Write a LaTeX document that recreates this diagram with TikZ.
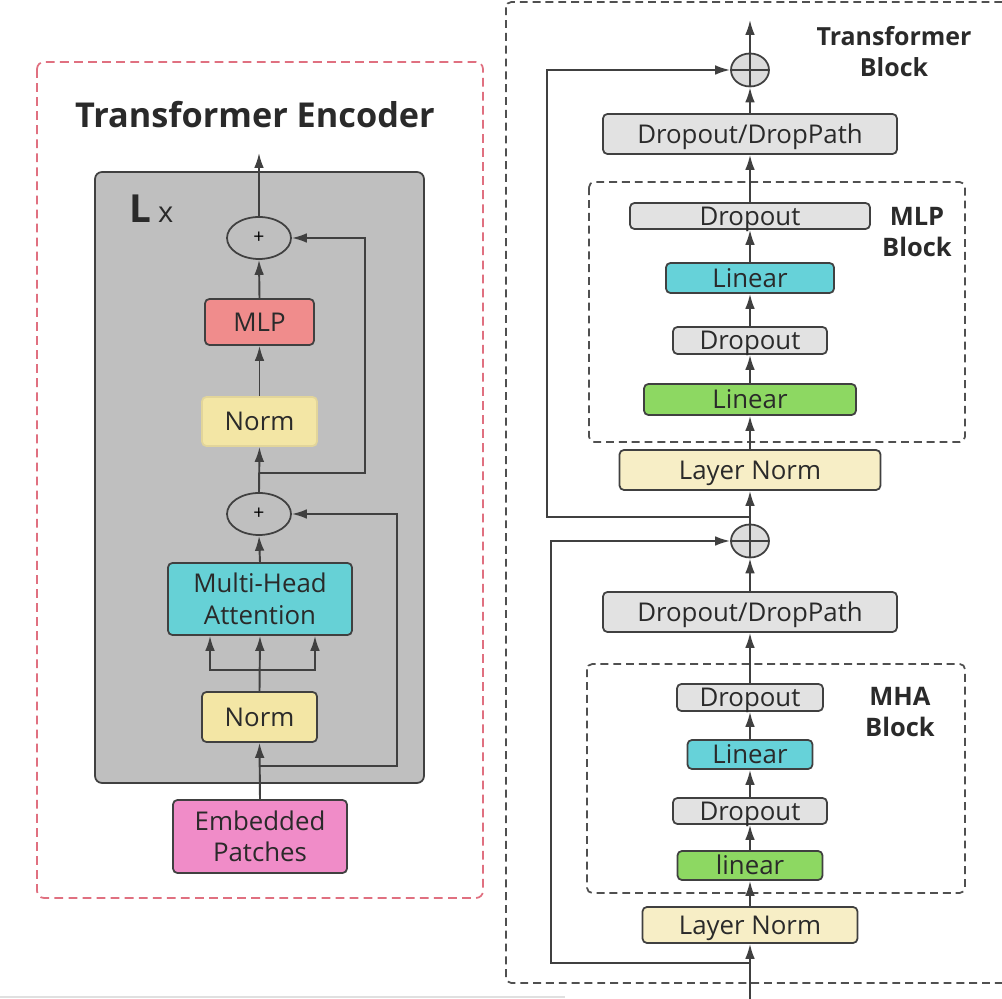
\documentclass[tikz,border=0pt]{standalone}
\usepackage{fontspec}
\setmainfont{Open Sans}
\usepackage{xcolor}
\usetikzlibrary{shapes.geometric,positioning,arrows.meta}

\definecolor{lineDark}{HTML}{404040}
\definecolor{textDark}{HTML}{2A2A2A}
\definecolor{frameRed}{HTML}{E07080}
\definecolor{frameGrey}{HTML}{505050}
\definecolor{encGrey}{HTML}{BFBFBF}
\definecolor{mlpRed}{HTML}{F08C8C}
\definecolor{normYel}{HTML}{F3E6A5}
\definecolor{normEdge}{HTML}{E2D59A}
\definecolor{mhaCyan}{HTML}{66D1D6}
\definecolor{embPink}{HTML}{F08CC8}
\definecolor{dropGrey}{HTML}{E2E2E2}
\definecolor{linCyan}{HTML}{66D2D9}
\definecolor{linGreen}{HTML}{8DD862}
\definecolor{lnYel}{HTML}{F7EEC6}
\definecolor{addGrey}{HTML}{DCDCDC}

\begin{document}
\begin{tikzpicture}[x=0.02cm, y=-0.02cm,
  arr/.style={line width=1.1pt, draw=lineDark, -{Latex[length=8.5pt,width=5.5pt]}},
  box/.style={draw=lineDark, line width=1pt, rounded corners=2.5pt, inner sep=0pt, text=textDark, font=\fontsize{14.7}{18}\selectfont},
  oneLine/.style={box, text height=11pt, text depth=0.6pt},
  twoLine/.style={box, align=center},
  addOval/.style={ellipse, draw=lineDark, line width=1pt, inner sep=0pt},
  blockFrame/.style={draw=frameGrey, line width=1pt, rounded corners=3pt, dash pattern=on 4.5pt off 2.8pt},
  lbl/.style={font=\fontsize{14.5}{17.6}\selectfont\bfseries, text=textDark, align=center}]
  \useasboundingbox (0,0) rectangle (1002,999);
  \clip (0,0) rectangle (1002,999);

  % Left: encoder frame and grey repeat box
  \draw[frameRed, line width=1pt, rounded corners=4pt, dash pattern=on 5pt off 3pt] (37,62) rectangle (483,898);
  \node[font=\fontsize{19.5}{22}\selectfont\bfseries, text=textDark, anchor=base] (encTitle) at (255,128) {Transformer Encoder};
  \draw[fill=encGrey, draw=lineDark, line width=1pt, rounded corners=4pt] (95,172) rectangle (424,783);
  \node[anchor=base west, text=textDark, inner sep=0pt] (repL) at (129,223) {{\fontsize{22}{22}\selectfont\bfseries L}\hspace{4pt}{\fontsize{16.5}{16}\selectfont x}};

  % Left: blocks
  \node[addOval, minimum width=1.28cm, minimum height=0.84cm, font=\fontsize{11}{11}\selectfont] (plusA) at (259,238) {+};
  \node[oneLine, fill=mlpRed, minimum width=2.18cm, minimum height=0.92cm] (mlp) at (259.5,322) {MLP};
  \node[oneLine, fill=normYel, draw=normEdge, minimum width=2.30cm, minimum height=0.98cm] (normA) at (259.5,421.5) {Norm};
  \node[addOval, minimum width=1.28cm, minimum height=0.84cm, font=\fontsize{11}{11}\selectfont] (plusB) at (259,514) {+};
  \node[twoLine, fill=mhaCyan, minimum width=3.68cm, minimum height=1.44cm] (mha) at (260,599) {Multi-Head\\Attention};
  \node[oneLine, fill=normYel, minimum width=2.30cm, minimum height=1.00cm] (normB) at (259.5,717) {Norm};
  \node[twoLine, fill=embPink, minimum width=3.48cm, minimum height=1.46cm] (emb) at (260,836.5) {Embedded\\Patches};

  \coordinate (outA) at (259,153);
  \coordinate (jA) at (259,473);
  \coordinate (skA) at (365,238);
  \coordinate (fork) at (259,670);
  \coordinate (jB) at (259,766);
  \coordinate (skB) at (397,514);

  % Left: connectors
  \draw[arr] (plusA.north) -- (outA);
  \draw[arr] (mlp.north) -- (plusA.south);
  \draw[arr] (normA.north) -- (mlp.south);
  \draw[arr] (plusB.north) -- (normA.south);
  \draw[arr] (jA) -| (skA) -- (plusA.east);
  \draw[arr] (mha.north) -- (plusB.south);
  \draw[arr] (normB.north) -- (mha.south);
  \draw[arr] (fork) -| ([xshift=-1.0cm]mha.south);
  \draw[arr] (fork) -| ([xshift=1.1cm]mha.south);
  \draw[arr] (emb.north) -- (normB.south);
  \draw[arr] (jB) -| (skB) -- (plusB.east);

  % Right: transformer block frames
  \draw[blockFrame] (506,2) rectangle (1030,983);
  \draw[blockFrame] (589,182) rectangle (965,442);
  \draw[blockFrame] (587,664) rectangle (965,893);
  \node[lbl, font=\fontsize{14.2}{17.6}\selectfont\bfseries] (tbLbl) at (894,52) {Transformer\\Block};
  \node[lbl] (mlpLbl) at (917,232) {MLP\\Block};
  \node[lbl] (mhaLbl) at (900,712) {MHA\\Block};

  % Right: blocks
  \node[addOval, fill=addGrey, minimum width=0.76cm, minimum height=0.66cm] (addA) at (750,70) {};
  \node[oneLine, fill=dropGrey, minimum width=5.88cm, minimum height=0.80cm] (dpA) at (750,134) {Dropout/DropPath};
  \node[oneLine, fill=dropGrey, minimum width=4.80cm, minimum height=0.52cm] (mlpDropB) at (750,216) {Dropout};
  \node[oneLine, fill=linCyan, minimum width=3.36cm, minimum height=0.60cm] (mlpLinB) at (750,278) {Linear};
  \node[oneLine, fill=dropGrey, minimum width=3.08cm, minimum height=0.54cm] (mlpDropA) at (750,340.5) {Dropout};
  \node[oneLine, fill=linGreen, minimum width=4.24cm, minimum height=0.62cm] (mlpLinA) at (750,399.5) {Linear};
  \node[oneLine, fill=lnYel, minimum width=5.22cm, minimum height=0.80cm] (lnA) at (750,470) {Layer Norm};
  \node[addOval, fill=addGrey, minimum width=0.76cm, minimum height=0.66cm] (addB) at (750,541) {};
  \node[oneLine, fill=dropGrey, minimum width=5.88cm, minimum height=0.80cm] (dpB) at (750,612) {Dropout/DropPath};
  \node[oneLine, fill=dropGrey, minimum width=2.92cm, minimum height=0.54cm] (mhaDropB) at (750,697.5) {Dropout};
  \node[oneLine, fill=linCyan, minimum width=2.50cm, minimum height=0.58cm] (mhaLinB) at (750,754.5) {Linear};
  \node[oneLine, fill=dropGrey, minimum width=3.08cm, minimum height=0.52cm] (mhaDropA) at (750,811) {Dropout};
  \node[oneLine, fill=linGreen, minimum width=2.90cm, minimum height=0.58cm] (mhaLinA) at (750,865.5) {linear};
  \node[oneLine, fill=lnYel, minimum width=4.30cm, minimum height=0.72cm] (lnB) at (750,925) {Layer Norm};

  \draw[lineDark, line width=1pt] (addA.west) -- (addA.east) (addA.north) -- (addA.south);
  \draw[lineDark, line width=1pt] (addB.west) -- (addB.east) (addB.north) -- (addB.south);

  \coordinate (outB) at (750,20);
  \coordinate (jC) at (750,517);
  \coordinate (skC) at (547,70);
  \coordinate (jD) at (750,963);
  \coordinate (skD) at (551,541);
  \coordinate (inB) at (750,1000);

  % Right: connectors
  \draw[arr] (addA.north) -- (outB);
  \draw[arr] (dpA.north) -- (addA.south);
  \draw[arr] (mlpDropB.north) -- (dpA.south);
  \draw[arr] (mlpLinB.north) -- (mlpDropB.south);
  \draw[arr] (mlpDropA.north) -- (mlpLinB.south);
  \draw[arr] (mlpLinA.north) -- (mlpDropA.south);
  \draw[arr] (lnA.north) -- (mlpLinA.south);
  \draw[arr] (addB.north) -- (lnA.south);
  \draw[arr] (jC) -| (skC) -- (addA.west);
  \draw[arr] (dpB.north) -- (addB.south);
  \draw[arr] (mhaDropB.north) -- (dpB.south);
  \draw[arr] (mhaLinB.north) -- (mhaDropB.south);
  \draw[arr] (mhaDropA.north) -- (mhaLinB.south);
  \draw[arr] (mhaLinA.north) -- (mhaDropA.south);
  \draw[arr] (lnB.north) -- (mhaLinA.south);
  \draw[arr] (inB) -- (lnB.south);
  \draw[arr] (jD) -| (skD) -- (addB.west);

  \draw[black!12, line width=1pt] (0,997) -- (565,997);
\end{tikzpicture}
\end{document}
